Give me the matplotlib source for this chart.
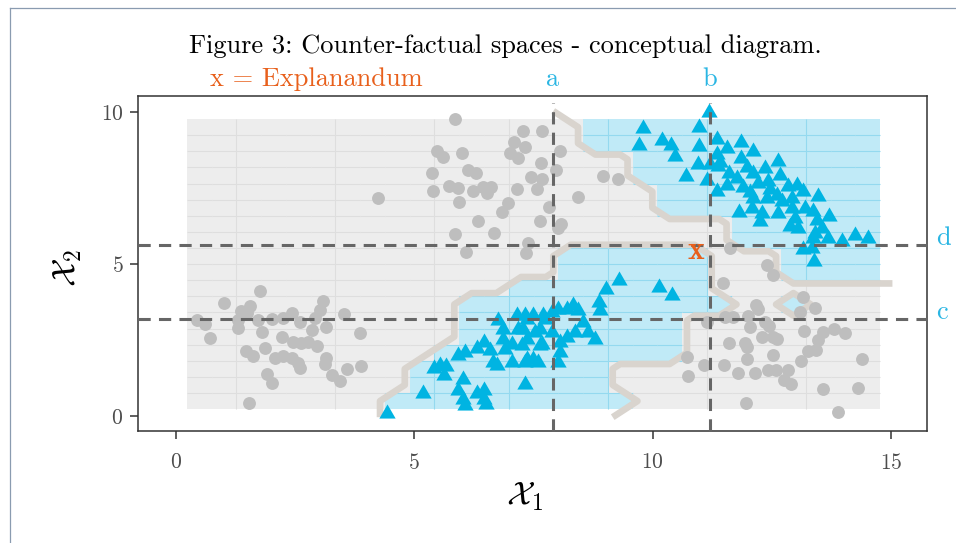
import numpy as np
import matplotlib.pyplot as plt
from matplotlib.colors import ListedColormap
from matplotlib.collections import LineCollection
from matplotlib.lines import Line2D

plt.rcParams['mathtext.fontset'] = 'cm'
plt.rcParams['font.family'] = 'cmr10'
plt.rcParams['axes.formatter.use_mathtext'] = True
plt.rcParams['axes.unicode_minus'] = False

# predicted class of each tile, top row first ('#' = blue class)
# first and last strings are one extra row outside the panel (only used by the contour)
class_map = [
    "...............#############",
    "................############",
    "................############",
    "..................##########",
    "..................##########",
    "...................#########",
    "...................#########",
    "......................######",
    "......................######",
    "...............######...####",
    "...............######...####",
    ".............########.......",
    "...........###########..#...",
    "...........#########........",
    "...........#########........",
    "..........##########........",
    ".........########...........",
    ".........########...........",
    "........##########..........",
    "........#########...........",
]
panel_x = (0.23, 14.77)
panel_y = (0.23, 9.77)
seam_cols = [2, 6, 10, 13, 17, 21, 25]

# class 0 points (grey circles)
grey_left_x = [1.76, 1.01, 1.55, 1.36, 3.08, 3.02, 3.52, 0.44, 0.61, 1.30,
               1.30, 1.49, 1.72, 2.01, 2.24, 2.43, 2.60, 2.85, 2.92, 3.15,
               0.71, 1.80, 2.22, 2.45, 2.62, 2.77, 2.96, 3.86, 1.47, 1.62,
               1.87, 2.08, 2.24, 2.43, 2.56, 2.60, 3.15, 3.13, 3.27, 3.44,
               3.59, 3.88, 1.91, 2.01, 1.53]
grey_left_y = [4.11, 3.72, 3.62, 3.45, 3.78, 3.49, 3.36, 3.16, 3.03, 3.16,
               2.89, 3.39, 3.16, 3.19, 3.22, 3.39, 3.09, 2.83, 3.22, 2.93,
               2.57, 2.76, 2.60, 2.43, 2.40, 2.43, 2.30, 2.73, 2.14, 1.97,
               2.24, 1.91, 1.97, 1.91, 1.74, 1.58, 1.91, 1.71, 1.35, 1.15,
               1.55, 1.64, 1.38, 1.09, 0.43]
grey_top_x = [4.24, 5.85, 7.28, 7.68, 7.09, 7.32, 5.48, 5.60, 6.00, 7.01,
              7.18, 7.66, 5.37, 6.13, 6.29, 7.45, 7.68, 5.39, 5.73, 5.92,
              6.23, 6.44, 6.61, 6.52, 7.15, 7.57, 5.94, 6.97, 6.84, 6.34,
              7.64, 5.85, 6.67, 7.38, 6.08, 7.34, 7.83, 8.06, 7.97, 8.96,
              9.27, 8.43, 8.08, 8.01]
grey_top_y = [7.17, 9.77, 9.38, 9.38, 9.01, 8.85, 8.72, 8.52, 8.65, 8.65,
              8.49, 8.32, 7.99, 8.09, 7.99, 7.86, 7.80, 7.40, 7.57, 7.50,
              7.40, 7.53, 7.53, 7.34, 7.47, 7.47, 7.04, 7.01, 6.71, 6.41,
              6.41, 5.99, 6.02, 5.69, 5.39, 5.36, 6.88, 8.72, 8.09, 7.89,
              7.80, 7.20, 6.32, 6.18]
grey_right_x = [12.40, 12.52, 11.48, 11.62, 13.15, 13.09, 13.41, 12.17, 12.21, 11.14,
                11.52, 11.69, 12.00, 12.04, 12.36, 12.44, 13.18, 13.57, 13.47, 13.80,
                14.04, 12.29, 12.52, 12.61, 11.60, 11.94, 11.98, 13.26, 13.43, 12.52,
                10.72, 11.08, 11.50, 11.98, 13.11, 14.39, 10.74, 11.79, 12.15, 12.42,
                12.59, 12.84, 12.76, 12.90, 13.57, 14.31, 11.96, 13.89]
grey_right_y = [4.97, 4.64, 4.38, 5.53, 3.91, 3.42, 3.55, 3.65, 3.52, 3.09,
                3.26, 3.26, 3.29, 2.93, 3.09, 2.96, 2.80, 2.76, 2.50, 2.86,
                2.73, 2.60, 2.60, 2.53, 2.40, 2.40, 2.27, 2.14, 2.17, 2.01,
                1.94, 1.68, 1.68, 1.88, 1.81, 1.88, 1.32, 1.41, 1.41, 1.51,
                1.51, 1.51, 1.18, 1.05, 0.89, 0.92, 0.43, 0.13]

# class 1 points (blue triangles)
blue_upper_x = [9.80, 9.71, 10.20, 10.38, 10.47, 10.97, 10.97, 11.18, 11.35, 11.56,
                11.85, 12.10, 11.85, 11.37, 10.95, 10.70, 11.14, 11.20, 11.35, 11.41,
                11.60, 11.77, 11.35, 11.56, 11.90, 12.10, 12.36, 12.63, 12.67, 12.42,
                12.21, 12.84, 13.03, 13.15, 13.47, 12.10, 12.40, 12.61, 12.71, 12.92,
                12.08, 12.29, 11.81, 12.25, 12.63, 12.92, 13.20, 13.36, 13.70, 12.99,
                12.88, 13.05, 13.41, 13.55, 13.36, 13.68, 13.97, 14.25, 14.52, 13.15,
                13.34, 13.38, 12.04, 11.98, 12.46, 13.45]
blue_upper_y = [9.54, 8.98, 9.14, 8.98, 8.62, 9.57, 8.95, 10.07, 9.18, 8.88,
                9.08, 8.78, 8.55, 8.29, 8.36, 7.96, 7.83, 8.36, 8.68, 8.42,
                8.06, 7.89, 7.47, 7.66, 7.60, 8.06, 8.22, 8.45, 7.99, 7.80,
                7.73, 7.63, 7.66, 7.47, 7.30, 7.24, 7.24, 7.34, 7.14, 7.24,
                6.91, 6.74, 6.78, 6.48, 6.74, 6.91, 6.91, 6.81, 6.64, 6.58,
                6.32, 6.25, 6.09, 6.25, 5.92, 5.92, 5.82, 6.02, 5.92, 5.56,
                5.59, 5.16, 7.43, 8.26, 7.53, 6.51]
blue_mid_x = [4.43, 5.18, 5.41, 5.54, 5.66, 5.62, 5.92, 6.06, 6.02, 5.92,
              6.02, 6.06, 6.31, 6.46, 6.46, 6.50, 6.31, 6.46, 6.59, 6.65,
              6.73, 6.76, 6.86, 6.86, 6.90, 7.05, 7.05, 7.15, 7.18, 7.26,
              7.32, 7.32, 7.36, 7.36, 7.53, 7.68, 7.49, 7.74, 9.29, 9.02,
              8.87, 8.90, 10.13, 10.41, 8.33, 8.43, 8.20, 8.01, 7.89, 7.70,
              7.49, 7.32, 8.54, 8.64, 8.79, 8.37, 8.20, 8.06, 8.06, 7.89,
              7.64, 7.64, 7.28, 7.59, 7.36, 8.01]
blue_mid_y = [0.16, 0.82, 1.64, 1.74, 1.71, 1.41, 2.07, 2.17, 1.28, 0.92,
              0.63, 0.43, 0.82, 0.92, 0.63, 0.46, 2.30, 2.50, 2.24, 1.84,
              1.74, 3.22, 2.93, 2.60, 2.27, 2.43, 1.84, 3.39, 2.93, 2.40,
              1.84, 1.12, 3.26, 2.60, 2.83, 2.43, 1.94, 3.26, 4.54, 4.24,
              3.82, 3.55, 4.31, 4.05, 3.72, 3.55, 3.59, 3.59, 3.49, 3.39,
              3.39, 3.39, 3.16, 2.83, 2.60, 2.83, 2.66, 2.17, 2.50, 2.83,
              2.93, 2.40, 2.93, 1.84, 1.94, 1.84]

# the explanandum and the four cut lines
explanandum = (10.90, 5.16)
cut_a, cut_b = 7.90, 11.20
cut_c, cut_d = 3.20, 5.63

grey_fill, blue_fill = '#EDEDED', '#C0EAF7'
grey_seam, blue_seam = '#DEDEDE', '#94D9EF'
grey_pt, blue_pt = '#BEBEBE', '#00B4E2'
boundary_col = '#D9D4CE'
orange, cyan = '#E8601C', '#2BB6E3'

fig = plt.figure(figsize=(9.56, 5.43), dpi=100)
ax = fig.add_axes([138 / 956, 1 - 431 / 543, 789 / 956, 335 / 543])
ax.set_xlim(-0.797, 15.755)
ax.set_ylim(-0.49, 10.53)

grid = np.array([[ch == '#' for ch in row] for row in class_map], dtype=float)
inner = grid[1:-1]
nrow, ncol = inner.shape
xe = np.linspace(panel_x[0], panel_x[1], ncol + 1)
ye = np.linspace(panel_y[1], panel_y[0], nrow + 1)  # top to bottom

ax.pcolormesh(xe, ye[::-1], inner[::-1], cmap=ListedColormap([grey_fill, blue_fill]),
              vmin=0, vmax=1, shading='flat', zorder=0)

# faint tile seams
segs, cols = [], []
for i in range(1, nrow):
    for c in range(ncol):
        segs.append([(xe[c], ye[i]), (xe[c + 1], ye[i])])
        cols.append(blue_seam if max(inner[i - 1, c], inner[i, c]) else grey_seam)
for c in seam_cols:
    for i in range(nrow):
        segs.append([(xe[c], ye[i]), (xe[c], ye[i + 1])])
        cols.append(blue_seam if max(inner[i, c - 1], inner[i, c]) else grey_seam)
ax.add_collection(LineCollection(segs, colors=cols, linewidths=0.8, zorder=1))

# decision boundary: contour of the class map (padded one cell all round)
padded = np.hstack([np.zeros((grid.shape[0], 1)), grid, grid[:, -1:]])
dx = xe[1] - xe[0]
dy = ye[0] - ye[1]
xc = np.concatenate([[xe[0] - dx / 2], xe[:-1] + dx / 2, [xe[-1] + dx / 2]])
yc = np.concatenate([[ye[0] + dy / 2], ye[:-1] - dy / 2, [ye[-1] - dy / 2]])
ax.contour(xc, yc[::-1], padded[::-1], levels=[0.3], colors=boundary_col,
           linewidths=4.8, zorder=2)

# points
ax.scatter(grey_left_x + grey_top_x + grey_right_x, grey_left_y + grey_top_y + grey_right_y,
           s=86, color=grey_pt, linewidths=0, zorder=3)
tri = [(-1, -0.866), (1, -0.866), (0, 0.866)]
ax.scatter(blue_upper_x + blue_mid_x, blue_upper_y + blue_mid_y, s=138, marker=tri,
           color=blue_pt, linewidths=0, zorder=3)

# cut lines
dash = dict(color='#666666', lw=2.2, dashes=(4, 2.7), zorder=4, clip_on=False)
ax.plot([cut_a, cut_a], [-0.49, 10.3], **dash)
ax.plot([cut_b, cut_b], [-0.49, 10.3], **dash)
ax.axhline(cut_c, **dash)
ax.axhline(cut_d, **dash)

ax.text(explanandum[0], explanandum[1], 'x', color=orange, family='cmb10', fontsize=23,
        ha='center', va='baseline', zorder=5)
ax.text(0.71, 10.86, 'x = Explanandum', color=orange, fontsize=19, ha='left',
        va='baseline', clip_on=False)
ax.text(cut_a, 10.86, 'a', color=cyan, fontsize=19, ha='center', va='baseline', clip_on=False)
ax.text(cut_b, 10.86, 'b', color=cyan, fontsize=19, ha='center', va='baseline', clip_on=False)
ax.text(15.94, cut_c, 'c', color=cyan, fontsize=19, ha='left', va='baseline', clip_on=False)
ax.text(15.94, cut_d, 'd', color=cyan, fontsize=19, ha='left', va='baseline', clip_on=False)

ax.set_xticks([0, 5, 10, 15])
ax.set_yticks([0, 5, 10])
ax.tick_params(direction='out', length=5.5, width=1.1, color='#333333',
               labelsize=15.5, labelcolor='#4D4D4D')
ax.tick_params(axis='x', pad=10)
ax.tick_params(axis='y', pad=5)
for sp in ax.spines.values():
    sp.set_color('#333333')
    sp.set_linewidth(1.1)

fig.text(525 / 956, 1 - 497 / 543, r'$\mathcal{X}_1$', fontsize=24, ha='center', va='center')
fig.text(68 / 956, 1 - 268 / 543, r'$\mathcal{X}_2$', fontsize=24, ha='center', va='center',
         rotation=90)
fig.text(505 / 956, 1 - 53 / 543, 'Figure 3: Counter-factual spaces - conceptual diagram.',
         fontsize=19, ha='center', va='baseline')

# page frame
fig.add_artist(Line2D([10 / 956, 10 / 956], [0, 1 - 8 / 543], color='#8A9BB0', lw=0.9,
                      transform=fig.transFigure))
fig.add_artist(Line2D([10 / 956, 1], [1 - 8 / 543, 1 - 8 / 543], color='#8A9BB0', lw=0.9,
                      transform=fig.transFigure))

fig.savefig('out.png', dpi=100)
